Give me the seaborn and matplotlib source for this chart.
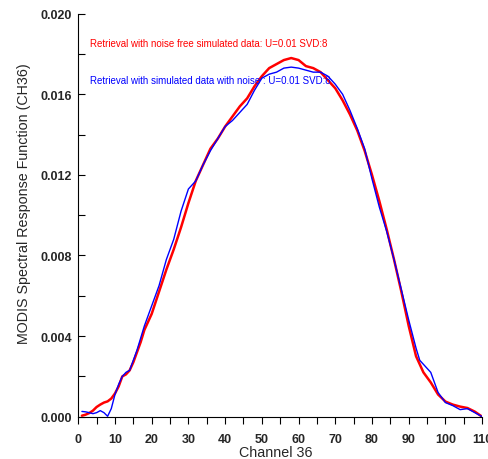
import pandas as pd
import seaborn as sns
import matplotlib.pyplot as plt
from matplotlib.ticker import MultipleLocator

# channel positions and retrieved response values
ch_free = [1, 2, 3, 4, 5, 6, 7, 8, 9, 10, 11, 12, 13, 14, 15, 16, 17, 18, 19, 20,
           22, 24, 26, 28, 30, 32, 34, 36, 38, 40, 42, 44, 46, 48, 50, 52, 54, 56, 58,
           60, 62, 64, 66, 68, 70, 72, 74, 76, 78, 80, 82, 84, 86, 88, 90, 92, 94, 96,
           98, 100, 102, 104, 106, 108, 110]
srf_free = [0.00005, 0.0001, 0.00018, 0.0003, 0.00048, 0.0006, 0.0007, 0.00076, 0.0009,
            0.00115, 0.0015, 0.002, 0.0021, 0.0023, 0.0027, 0.0032, 0.0037, 0.0043, 0.0047,
            0.0051, 0.0062, 0.0073, 0.0083, 0.0094, 0.0106, 0.0117, 0.0125, 0.0133, 0.0138,
            0.0144, 0.0149, 0.0154, 0.0158, 0.0164, 0.0169, 0.0173, 0.0175, 0.0177, 0.0178,
            0.0177, 0.0174, 0.0173, 0.0171, 0.0167, 0.0163, 0.0157, 0.0150, 0.0142, 0.0132,
            0.0120, 0.0107, 0.0093, 0.0078, 0.0062, 0.0045, 0.0030, 0.0022, 0.0017, 0.0011,
            0.00075, 0.0006, 0.0005, 0.00043, 0.00025, 0.0]

ch_noise = [1, 2, 3, 4, 5, 6, 7, 8, 9, 10, 11, 12, 13, 14, 15, 16, 17, 18, 19, 20,
            22, 24, 26, 28, 30, 32, 34, 36, 38, 40, 42, 44, 46, 48, 50, 52, 54, 56, 58,
            60, 62, 64, 66, 68, 70, 72, 74, 76, 78, 80, 82, 84, 86, 88, 90, 92, 93, 94,
            96, 98, 100, 102, 104, 106, 108, 110]
srf_noise = [0.00026, 0.00024, 0.0002, 0.00015, 0.0002, 0.0003, 0.0002, 0.00002, 0.0004,
             0.0011, 0.0016, 0.002, 0.0022, 0.0023, 0.0028, 0.0033, 0.0039, 0.0045, 0.005,
             0.0055, 0.0065, 0.0078, 0.0088, 0.0102, 0.0113, 0.0117, 0.0125, 0.0132, 0.0138,
             0.0144, 0.0147, 0.0151, 0.0155, 0.0162, 0.0168, 0.0170, 0.0171, 0.0173, 0.01735,
             0.0173, 0.0172, 0.0171, 0.0171, 0.0169, 0.0165, 0.0160, 0.0152, 0.0143, 0.0133,
             0.0118, 0.0104, 0.0092, 0.0078, 0.0063, 0.0048, 0.0034, 0.0028, 0.0026, 0.0022,
             0.0012, 0.0007, 0.00055, 0.00035, 0.0004, 0.0002, 0.0]

label_free = "Retrieval with noise free simulated data: U=0.01 SVD:8"
label_noise = "Retrieval with simulated data with noise : U=0.01 SVD:8"

sns.set_style("ticks")
plt.rcParams['font.family'] = ['Liberation Sans', 'DejaVu Sans']

fig = plt.figure(figsize=(4.89, 4.6), dpi=100)
ax = fig.add_axes([0.160, 0.092, 0.826, 0.876])

sns.lineplot(x=ch_free, y=srf_free, color="red", linewidth=1.8, ax=ax)
sns.lineplot(x=ch_noise, y=srf_noise, color="blue", linewidth=1.0, ax=ax)

ax.set_xlim(0, 110)
ax.set_ylim(0, 0.020)
ax.xaxis.set_major_locator(MultipleLocator(10))
ax.xaxis.set_minor_locator(MultipleLocator(5))
ax.yaxis.set_major_locator(MultipleLocator(0.004))
ax.yaxis.set_minor_locator(MultipleLocator(0.002))
ax.yaxis.set_major_formatter(plt.FormatStrFormatter('%.3f'))
# x ticks point out, y ticks point in (as in the original)
ax.tick_params(axis='x', which='both', direction='out', length=5, width=0.8, color='black')
ax.tick_params(axis='y', which='both', direction='in', length=5, width=0.8, color='black')
ax.tick_params(axis='x', which='major', labelsize=9, pad=6.5)
ax.tick_params(axis='y', which='major', labelsize=9, pad=4.5)
for lab in ax.get_xticklabels() + ax.get_yticklabels():
    lab.set_fontweight('bold')

sns.despine(ax=ax)
for sp in ['left', 'bottom']:
    ax.spines[sp].set_color('black')
    ax.spines[sp].set_linewidth(0.8)

ax.set_xlabel("Channel 36", fontsize=10.3)
ax.xaxis.set_label_coords(0.488, -0.070)
ax.set_ylabel("MODIS Spectral Response Function (CH36)", fontsize=10.3)
ax.yaxis.set_label_coords(-0.118, 0.531)

ax.text(3.2, 0.01856, label_free, color="red", fontsize=7.0, va='center')
ax.text(3.2, 0.01672, label_noise, color="blue", fontsize=7.0, va='center')

fig.savefig("out.png", dpi=100)
plt.close(fig)
